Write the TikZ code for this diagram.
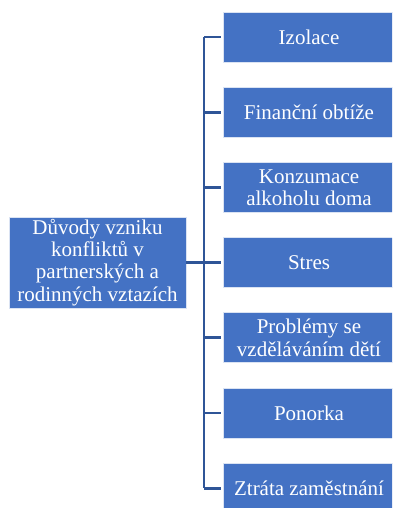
\documentclass[tikz,border=0pt]{standalone}
\usepackage{fontspec}
\setmainfont{Liberation Serif}
\newfontfamily\boxfont{Liberation Serif}
\usepackage{xcolor}
\usetikzlibrary{calc}

\definecolor{boxblue}{HTML}{4472C4}
\definecolor{lineblue}{HTML}{2F5597}

\tikzset{
	reason/.style = {rectangle, fill = boxblue, draw = white!80!boxblue, line width = 0.8pt,
		text = white, align = center, inner sep = 0pt,
		font = \boxfont\fontsize{21}{22.3}\selectfont},
	branch/.style = {draw = lineblue, line width = 2.8pt}
}

\begin{document}
\begin{tikzpicture}[x = 1pt, y = -1pt]
		\def\xMIN{0};
		\def\xMAX{392};
		\def\yMIN{0};
		\def\yMAX{508};

		\clip (\xMIN,\yMIN) rectangle (\xMAX,\yMAX);
		\useasboundingbox (\xMIN,\yMIN) rectangle (\xMAX,\yMAX);

		\node [reason, minimum width = 177, minimum height = 91] (cause) at (97.5,262.5)
			{D\r{u}vody vzniku\\konflikt\r{u} v\\partnerských a\\rodinných vztazích};

		\foreach \name/\txt [count = \i] in {izol/Izolace, fin/Finanční obtíže,
			alk/{Konzumace\\alkoholu doma}, stres/Stres, skola/{Problémy se\\vzděláváním dětí},
			ponor/Ponorka, prace/Ztráta zaměstnání}
		{
			\node [reason, minimum width = 172, minimum height = 50] (\name) at (309,{37 + (\i-1)*75.2}) {\txt};
		}

		\coordinate (spine) at (204,262.5);

		\draw [branch] (cause.east) -- (spine);
		\draw [branch] (spine |- izol.west) -- (spine |- prace.west);

		\foreach \name in {izol, fin, alk, stres, skola, ponor, prace}
		{
			\draw [branch, shorten >= 2pt] (spine |- \name.west) -- (\name.west);
		}
	\end{tikzpicture}
\end{document}
